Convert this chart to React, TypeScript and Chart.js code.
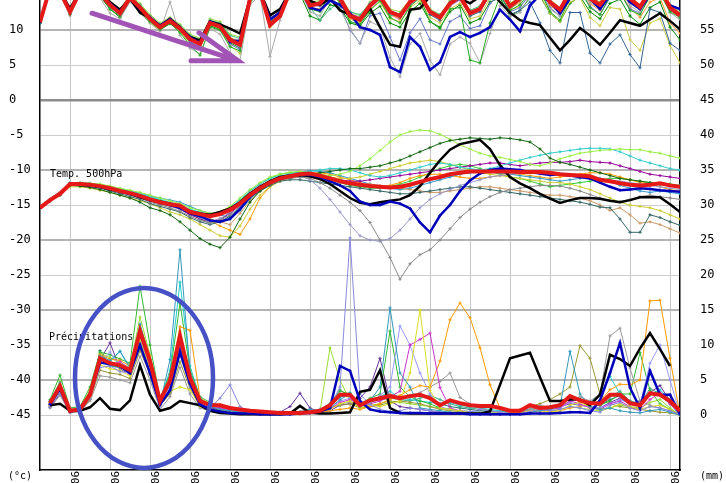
import React, { useEffect, useRef } from 'react';
import { Chart, registerables } from 'chart.js';

Chart.register(...registerables);

// ---------- layout constants ----------
const CUT_TOP = 20; // part of the chart hidden above the picture edge
const CANVAS_W = 726;
const CANVAS_H = 483 + CUT_TOP;

// ---------- axes ----------
const stepIndex = Array.from({ length: 65 }, (_, i) => i); // 6-hourly steps, 0 = 12 UTC
const sixUtcSteps = [3, 7, 11, 15, 19, 23, 27, 31, 35, 39, 43, 47, 51, 55, 59, 63];
const sixUtcLabel = '06';
const leftTickValues = [-45, -40, -35, -30, -25, -20, -15, -10, -5, 0, 5, 10, 15];
const rightTickValues = [0, 5, 10, 15, 20, 25, 30, 35, 40, 45, 50, 55, 60];
const PRECIP_OFFSET = 45; // mm axis = °C axis + 45
const Y_MIN = -52 - 6 / 7;
const Y_MAX = 17 + 1 / 7;
const unitLeft = '(°c)';
const unitRight = '(mm)';
const labelT500 = 'Temp. 500hPa';
const labelPrecip = 'Précipitations';

// ---------- annotations (data units: step, °C) ----------
const arrowTail = { x: 5.2, y: 12.4 };
const arrowTip = { x: 19.8, y: 5.6 };
const arrowBarbA = { x: 15.9, y: 9.6 };
const arrowBarbB = { x: 15.1, y: 5.6 };
const ellipseCenter = { x: 10.4, y: -39.7 };
const ellipseRadiusSteps = 6.9;
const ellipseRadiusDeg = 12.86;

// ---------- top panel (temperature, °C) ----------
const topMean = [11.1,16.0,15.5,12.6,15.5,16.5,15.2,13.6,12.4,14.6,
13.2,11.6,10.4,11.3,10.2,8.7,8.0,11.0,10.5,8.6,
7.9,14.5,15.5,10.7,12.0,15.5,16.0,13.5,13.8,15.5,
14.5,12.0,11.5,13.5,14.8,12.6,12.0,14.0,15.0,12.6,
11.8,13.8,14.8,12.4,13.0,15.5,15.8,13.4,14.5,16.0,
16.2,14.0,12.9,15.5,16.5,14.5,13.6,15.5,16.2,14.5,
13.3,15.5,16.0,13.2,12.1];
const topControl = [11.1,16.0,15.5,13.1,15.5,16.5,15.0,14.0,12.9,14.5,
12.5,11.7,10.6,11.6,10.4,9.0,8.5,11.2,10.8,10.2,
9.5,14.5,15.5,12.1,13.0,15.5,16.0,14.2,13.6,14.5,
12.8,12.2,11.4,13.1,10.4,7.9,7.6,12.9,13.1,14.8,
15.2,14.6,14.5,13.8,14.8,15.5,14.0,12.5,11.4,11.0,
10.7,8.9,7.1,8.6,10.3,9.2,7.9,9.6,11.4,11.0,
10.6,11.5,12.4,11.3,10.1];
const topOper = [11.1,16.0,15.5,12.8,15.5,16.5,15.0,13.8,12.6,14.6,
13.0,11.8,10.6,11.5,10.3,8.9,8.2,11.2,10.6,8.3,
8.5,14.5,15.5,11.5,12.5,15.5,16.0,13.2,12.8,14.2,
13.6,12.4,10.4,10.0,9.3,4.7,4.0,9.0,7.6,4.3,
5.4,9.0,9.7,9.0,9.6,10.4,12.9,11.5,9.8,13.5,
15.0,14.0,12.4,14.5,15.5,14.5,13.0,15.0,15.8,14.0,
13.0,15.0,15.5,13.5,13.0];
const topM01 = [11.0,16.2,15.6,12.2,15.4,16.6,15.0,13.0,12.0,14.8,
12.8,11.2,10.1,11.0,9.6,7.8,6.4,10.4,10.0,7.6,
7.0,14.0,15.2,11.2,12.6,15.8,16.2,13.0,12.6,15.2,
14.0,11.2,10.8,12.8,14.2,11.8,11.0,13.4,14.6,11.2,
10.2,13.0,13.2,5.7,5.3,11.0,14.8,12.8,13.6,15.5,
15.6,12.6,11.4,14.6,15.8,13.2,12.2,14.8,15.4,12.8,
12.2,14.8,15.2,12.6,11.8];
const topM02 = [11.2,15.8,15.0,12.0,15.0,16.0,14.6,12.4,11.6,14.0,
12.4,11.0,9.8,14.0,9.2,7.4,6.6,10.2,9.4,6.8,
5.7,13.6,15.0,6.2,11.4,15.0,15.6,12.6,12.0,14.6,
13.0,10.2,8.1,11.2,10.5,6.1,3.3,8.0,9.5,5.7,
3.6,8.0,9.0,8.1,5.3,9.5,13.5,12.0,12.5,15.0,
15.5,13.0,12.0,14.8,16.0,14.0,13.0,15.0,15.8,13.5,
12.5,15.0,15.5,12.5,11.5];
const topM03 = [11.1,16.0,15.4,12.4,15.6,16.5,15.0,13.2,12.2,14.4,
13.0,11.4,10.2,11.6,10.4,8.2,7.6,11.2,10.6,8.0,
7.2,14.4,15.5,11.8,12.4,15.2,15.8,13.6,13.4,14.8,
13.4,10.0,8.1,12.0,12.4,9.0,5.7,9.6,11.6,8.6,
8.0,11.2,12.0,10.2,10.6,13.8,15.0,12.6,13.2,15.2,
15.4,13.2,12.0,14.6,15.6,13.4,12.2,14.6,15.2,13.0,
12.4,14.8,15.6,12.8,12.0];
const topM04 = [11.0,16.0,15.6,12.8,15.5,16.4,15.4,13.8,12.6,14.8,
13.4,11.8,10.6,11.4,10.0,8.8,8.2,11.0,10.4,8.8,
8.4,14.6,15.6,11.0,12.2,15.6,16.0,13.8,13.6,15.4,
14.6,12.2,11.4,13.6,14.6,12.4,11.8,13.8,14.8,12.2,
11.4,13.6,14.4,12.0,12.6,15.0,15.2,12.2,12.8,14.0,
11.0,7.1,5.3,12.5,12.5,6.7,5.3,8.0,9.3,6.5,
4.6,13.0,12.5,8.1,7.1];
const topM05 = [11.2,15.8,15.4,12.6,15.4,16.2,15.0,13.4,12.2,14.2,
12.6,11.0,10.0,11.2,9.8,8.0,7.4,10.8,10.2,7.8,
6.6,14.0,15.2,10.4,11.8,15.2,15.8,13.2,13.0,15.0,
14.0,11.6,11.0,13.0,14.0,11.6,11.2,13.2,14.2,11.8,
11.0,13.0,13.8,11.6,12.0,14.6,15.0,12.8,13.4,15.0,
15.0,12.4,11.2,14.0,14.6,11.8,10.6,13.2,13.0,8.6,
7.1,11.0,11.6,7.8,5.3];
const topM06 = [11.1,16.0,15.5,12.8,15.6,16.6,15.2,13.6,12.8,14.8,
13.6,12.0,10.8,11.6,10.6,9.2,8.6,11.4,11.0,9.2,
8.8,14.8,15.6,10.8,12.4,15.6,16.0,13.2,11.4,13.0,
14.0,12.6,12.2,13.8,14.4,12.0,12.4,13.6,15.0,12.8,
12.2,14.0,14.6,12.8,13.4,15.4,15.8,13.0,14.2,15.8,
16.0,13.8,12.6,15.2,16.2,14.2,13.2,15.2,15.8,14.0,
13.0,15.2,15.8,13.0,12.2];
const topM07 = [11.0,16.1,15.6,12.5,15.4,16.4,15.1,13.4,12.2,14.5,
13.0,11.5,10.2,11.2,10.0,8.4,7.8,10.8,10.3,8.4,
7.6,14.3,15.4,11.4,12.8,15.6,16.1,13.8,14.0,15.6,
14.8,12.4,11.8,13.8,15.0,12.8,12.2,14.2,15.2,12.8,
12.0,14.0,15.0,12.6,13.2,15.6,16.0,13.6,14.6,16.0,
16.2,14.2,13.0,15.6,16.4,14.6,13.8,15.6,16.2,14.6,
13.4,15.6,16.0,13.4,12.4];
const topM08 = [11.2,16.0,15.5,12.9,15.7,16.7,15.4,13.9,12.8,14.9,
13.6,12.0,10.8,11.6,10.4,9.0,8.3,11.3,10.8,8.9,
8.4,14.7,15.6,10.6,12.1,15.4,15.9,13.4,13.6,15.3,
14.3,11.8,11.2,13.2,14.5,12.2,11.6,13.8,14.8,12.4,
11.4,13.5,14.5,12.0,12.7,15.3,15.6,13.0,14.0,15.5,
15.8,13.5,12.4,14.9,15.8,13.8,12.8,14.8,15.3,13.2,
11.8,14.0,14.6,11.0,9.5];
const topM09 = [11.1,16.0,15.4,12.7,15.5,16.5,15.3,13.7,12.5,14.7,
13.3,11.8,10.6,11.5,10.3,8.9,8.2,11.1,10.6,8.7,
8.0,14.6,15.5,10.9,12.2,15.5,16.0,13.6,13.9,15.6,
14.6,12.1,11.6,13.6,14.9,12.7,12.1,14.1,15.1,12.7,
11.9,13.9,14.9,12.5,13.1,15.6,15.9,13.5,14.6,16.1,
16.3,14.1,13.0,15.6,16.6,14.6,13.7,15.6,16.3,14.6,
13.4,15.6,16.1,13.3,12.2];
const topM10 = [11.0,15.9,15.3,12.3,15.2,16.2,14.8,13.0,11.8,14.2,
12.6,11.2,10.0,10.9,9.9,8.3,7.5,10.6,10.1,8.2,
7.4,14.2,15.0,11.2,12.8,14.6,15.2,12.0,11.4,13.6,
13.2,11.0,10.6,12.4,13.4,11.0,10.4,12.6,13.8,11.2,
10.4,12.6,13.6,11.0,11.6,14.0,14.6,12.0,12.8,14.6,
14.8,12.4,11.2,13.8,14.8,12.6,11.6,13.8,14.4,12.0,
10.8,13.2,14.0,10.4,8.6];
const topM11 = [11.2,16.2,15.8,13.0,15.8,16.8,15.5,14.0,13.0,15.0,
13.8,12.2,11.0,11.8,10.8,9.4,8.8,11.6,11.2,9.4,
9.0,15.0,15.8,11.6,12.6,15.8,16.3,14.0,14.2,15.8,
15.0,12.6,12.0,14.0,15.2,13.0,12.6,14.4,15.4,13.0,
12.2,14.2,15.2,12.8,13.4,15.8,16.2,13.8,14.8,16.2,
16.4,14.4,13.2,15.8,16.8,14.8,14.0,15.8,16.4,14.8,
13.6,15.8,16.3,13.6,12.6];
const topM12 = [11.1,16.0,15.5,12.6,15.5,16.5,15.1,13.5,12.3,14.5,
13.1,11.5,10.3,11.2,10.1,8.6,7.9,10.9,10.4,8.5,
7.8,14.4,15.4,11.0,12.3,15.5,16.0,13.4,13.5,15.3,
14.2,11.6,11.0,13.1,14.4,12.2,11.5,13.6,14.6,12.2,
11.4,13.4,14.3,12.1,12.8,15.2,15.6,13.2,14.2,15.7,
15.9,13.7,12.6,15.2,16.2,14.2,13.2,15.2,15.9,14.2,
13.0,15.2,15.7,12.9,11.8];

// ---------- middle panel (Temp. 500hPa, °C) ----------
const t500Mean = [-15.4,-14.3,-13.4,-12.0,-12.0,-12.1,-12.3,-12.6,-13.0,-13.3,
-13.7,-14.2,-14.6,-14.9,-15.1,-16.0,-16.3,-16.6,-16.3,-15.7,
-14.8,-13.6,-12.6,-11.8,-11.2,-10.9,-10.6,-10.5,-10.8,-11.2,
-11.6,-11.9,-12.1,-12.3,-12.4,-12.5,-12.4,-12.1,-11.7,-11.3,
-11.0,-10.6,-10.4,-10.2,-10.2,-10.2,-10.2,-10.2,-10.3,-10.3,
-10.3,-10.4,-10.6,-10.7,-10.8,-10.9,-11.4,-11.6,-11.9,-12.1,
-12.2,-12.1,-11.9,-12.2,-12.4];
const t500Control = [-15.4,-14.2,-13.3,-12.0,-12.1,-12.2,-12.4,-12.8,-13.0,-13.4,
-13.9,-14.3,-14.5,-14.8,-15.4,-15.9,-16.2,-16.4,-16.0,-15.5,
-14.6,-13.4,-12.4,-11.6,-11.0,-10.8,-10.7,-10.9,-11.3,-12.0,
-13.0,-14.0,-14.7,-14.9,-14.6,-14.4,-14.2,-13.6,-12.3,-10.4,
-8.6,-7.1,-6.3,-6.0,-5.7,-7.0,-9.3,-11.0,-11.9,-12.6,
-13.4,-14.1,-14.7,-14.3,-14.0,-14.0,-14.1,-14.4,-14.6,-14.3,
-13.9,-13.9,-13.9,-14.9,-16.0];
const t500Oper = [-15.4,-14.3,-13.4,-12.0,-12.0,-12.2,-12.4,-12.7,-13.1,-13.4,
-13.8,-14.3,-14.7,-15.0,-15.4,-16.2,-16.6,-17.2,-17.4,-17.0,
-15.6,-13.8,-12.6,-11.8,-11.2,-10.9,-10.7,-10.7,-11.0,-11.6,
-12.2,-13.0,-14.5,-15.0,-15.0,-14.5,-14.8,-15.5,-17.5,-18.9,
-16.5,-15.0,-13.0,-11.5,-10.5,-10.0,-9.8,-9.9,-10.0,-10.3,
-10.5,-10.7,-10.6,-10.8,-11.0,-11.2,-11.8,-12.4,-12.9,-12.8,
-12.6,-12.7,-12.9,-13.0,-13.1];
const t500M01 = [-15.4,-14.4,-13.6,-12.2,-12.3,-12.5,-12.8,-13.2,-13.6,-14.0,
-14.6,-15.4,-15.8,-16.4,-17.4,-18.6,-19.8,-20.6,-21.1,-19.6,
-17.0,-14.6,-13.0,-12.0,-11.4,-11.0,-10.8,-10.6,-10.4,-10.2,
-10.0,-9.8,-9.8,-9.6,-9.4,-9.0,-8.6,-8.0,-7.4,-6.8,
-6.2,-5.8,-5.6,-5.4,-5.5,-5.6,-5.4,-5.5,-5.7,-6.0,
-7.0,-8.3,-8.9,-9.2,-9.6,-10.0,-10.4,-10.8,-11.2,-11.4,
-11.6,-11.8,-12.0,-12.2,-12.4];
const t500M02 = [-15.4,-14.2,-13.3,-11.9,-11.8,-11.9,-12.0,-12.3,-12.6,-12.9,
-13.2,-13.6,-14.0,-14.4,-14.8,-15.4,-15.8,-16.2,-16.0,-15.2,
-14.0,-12.8,-11.8,-11.0,-10.6,-10.3,-10.2,-10.4,-10.6,-10.8,
-10.6,-10.2,-9.4,-8.4,-7.2,-6.0,-5.0,-4.5,-4.3,-4.4,
-4.9,-5.6,-6.4,-7.0,-7.6,-8.0,-8.2,-8.5,-8.8,-9.2,
-9.4,-9.0,-8.4,-8.0,-7.6,-7.4,-7.2,-7.1,-7.0,-7.1,
-7.1,-7.4,-7.6,-8.0,-8.3];
const t500M03 = [-15.4,-14.4,-13.5,-12.1,-12.2,-12.3,-12.5,-12.8,-13.2,-13.6,
-14.0,-14.6,-15.0,-15.4,-15.9,-16.6,-17.2,-17.6,-17.2,-16.4,
-15.2,-13.8,-12.8,-12.0,-11.5,-11.2,-11.0,-11.2,-11.8,-12.6,
-13.6,-14.6,-15.8,-17.5,-20.0,-22.5,-25.6,-23.4,-22.1,-21.4,
-20.0,-18.4,-16.8,-15.6,-14.6,-13.8,-13.2,-12.8,-12.6,-12.4,
-12.2,-12.2,-12.3,-12.6,-13.0,-13.5,-14.0,-14.4,-14.5,-14.2,
-13.8,-13.6,-13.8,-14.0,-14.2];
const t500M04 = [-15.4,-14.3,-13.4,-12.1,-12.0,-12.2,-12.4,-12.7,-13.1,-13.5,
-13.9,-14.4,-14.8,-15.2,-15.6,-16.2,-16.8,-17.4,-17.0,-16.0,
-14.6,-13.2,-12.2,-11.6,-11.0,-10.8,-10.8,-11.4,-12.6,-14.2,
-16.0,-17.8,-19.4,-20.0,-20.2,-19.8,-18.6,-17.0,-15.4,-14.2,
-13.4,-12.8,-12.2,-11.8,-11.4,-11.0,-10.8,-10.6,-10.4,-10.2,
-10.2,-10.4,-10.6,-10.6,-10.8,-11.0,-11.2,-11.4,-11.6,-11.8,
-12.0,-12.2,-12.4,-12.6,-12.8];
const t500M05 = [-15.4,-14.3,-13.4,-11.9,-11.9,-12.0,-12.2,-12.5,-12.8,-13.1,
-13.4,-13.8,-14.2,-14.6,-15.0,-15.6,-16.0,-16.4,-16.2,-15.4,
-14.2,-13.0,-12.0,-11.2,-10.8,-10.6,-10.4,-10.2,-10.0,-9.8,
-9.8,-10.0,-10.4,-10.8,-11.0,-10.8,-10.4,-10.0,-9.6,-9.2,
-9.0,-9.2,-9.6,-9.8,-10.0,-9.8,-9.4,-9.0,-8.6,-8.2,
-7.9,-7.6,-7.4,-7.2,-7.0,-6.9,-6.9,-7.0,-7.4,-8.0,
-8.6,-9.0,-9.4,-9.8,-10.0];
const t500M06 = [-15.4,-14.4,-13.5,-12.2,-12.2,-12.4,-12.6,-13.0,-13.4,-13.8,
-14.2,-14.8,-15.2,-15.6,-16.0,-16.8,-17.4,-17.8,-17.4,-16.6,
-15.4,-14.0,-13.0,-12.2,-11.6,-11.4,-11.4,-11.6,-11.8,-12.0,
-12.2,-12.4,-12.6,-12.8,-13.0,-13.2,-13.4,-13.4,-13.2,-13.0,
-12.8,-12.6,-12.4,-12.4,-12.6,-12.8,-13.0,-13.2,-13.4,-13.6,
-13.8,-14.0,-14.2,-14.4,-14.6,-14.9,-15.3,-15.4,-17.0,-18.9,
-18.9,-16.4,-16.8,-17.4,-17.9];
const t500M07 = [-15.4,-14.2,-13.3,-11.9,-11.9,-12.0,-12.2,-12.5,-12.9,-13.2,
-13.6,-14.0,-14.4,-14.8,-15.2,-15.8,-16.4,-17.0,-17.4,-17.8,
-16.2,-14.4,-13.0,-12.2,-11.6,-11.2,-11.0,-11.0,-11.2,-11.4,
-11.6,-11.8,-12.0,-12.0,-12.2,-12.4,-12.6,-12.8,-13.0,-13.2,
-13.2,-13.0,-12.8,-12.6,-12.4,-12.4,-12.6,-12.8,-13.0,-13.2,
-13.4,-13.6,-13.6,-13.8,-14.0,-14.4,-15.0,-15.8,-15.4,-16.4,
-17.6,-17.4,-17.8,-18.4,-19.0];
const t500M08 = [-15.4,-14.4,-13.6,-12.4,-12.4,-12.6,-12.9,-13.2,-13.6,-14.0,
-14.4,-14.8,-15.4,-16.0,-16.4,-17.0,-17.8,-18.6,-19.4,-19.6,
-18.0,-15.6,-13.6,-12.4,-11.6,-11.2,-10.9,-10.8,-10.9,-11.0,
-11.2,-11.2,-11.0,-10.6,-10.2,-9.8,-9.4,-9.0,-8.8,-8.6,
-8.8,-9.2,-9.6,-10.0,-10.4,-10.6,-10.8,-11.0,-11.2,-11.4,
-11.6,-11.8,-11.8,-12.0,-12.4,-12.8,-13.4,-14.0,-14.6,-15.0,
-15.2,-15.4,-15.8,-16.4,-17.0];
const t500M09 = [-15.4,-14.3,-13.4,-12.0,-12.1,-12.2,-12.4,-12.7,-13.1,-13.4,
-13.8,-14.3,-14.7,-15.1,-15.6,-16.4,-17.0,-17.4,-17.0,-16.2,
-15.0,-13.8,-12.8,-12.0,-11.4,-11.0,-10.8,-10.7,-10.9,-11.2,
-11.4,-11.6,-11.6,-11.4,-11.2,-11.0,-10.8,-10.6,-10.4,-10.2,
-10.0,-9.8,-9.6,-9.4,-9.2,-9.0,-9.0,-9.2,-9.4,-9.2,
-9.0,-8.9,-8.9,-8.8,-8.6,-8.8,-8.9,-9.0,-9.4,-9.8,
-10.2,-10.6,-10.8,-11.0,-11.2];
const t500M10 = [-15.4,-14.2,-13.2,-11.8,-11.8,-11.9,-12.1,-12.4,-12.7,-13.0,
-13.3,-13.7,-14.0,-14.3,-14.6,-15.2,-15.8,-16.2,-16.4,-16.8,
-15.8,-14.2,-12.8,-11.8,-11.0,-10.6,-10.3,-10.1,-10.2,-10.4,
-10.8,-11.2,-11.6,-12.0,-12.4,-12.6,-12.8,-12.6,-12.2,-11.8,
-11.4,-11.0,-10.6,-10.4,-10.2,-10.2,-10.4,-10.6,-10.8,-11.0,
-11.2,-11.4,-11.6,-11.4,-11.2,-11.0,-11.2,-11.6,-12.2,-12.6,
-13.0,-13.2,-13.0,-13.2,-13.4];
const t500M11 = [-15.4,-14.3,-13.3,-11.9,-12.0,-12.1,-12.3,-12.5,-12.9,-13.2,
-13.6,-14.0,-14.5,-14.9,-15.3,-16.0,-16.6,-17.2,-18.0,-18.6,
-19.2,-17.0,-14.0,-12.4,-11.4,-10.9,-10.6,-10.4,-10.4,-10.6,
-11.0,-11.4,-11.8,-12.2,-12.4,-12.2,-11.8,-11.2,-10.8,-10.6,
-10.6,-10.8,-11.0,-11.2,-11.2,-11.0,-10.8,-10.6,-10.6,-10.8,
-11.0,-11.2,-11.0,-10.8,-10.6,-10.4,-10.4,-10.6,-11.0,-11.4,
-11.8,-12.0,-12.4,-12.8,-13.0];
const t500M12 = [-15.4,-14.3,-13.4,-12.0,-11.9,-12.0,-12.2,-12.5,-12.8,-13.2,
-13.5,-13.9,-14.3,-14.8,-15.4,-16.2,-17.0,-17.6,-17.2,-16.0,
-14.4,-13.0,-12.0,-11.2,-10.6,-10.4,-10.4,-10.6,-11.0,-11.4,
-11.8,-12.2,-12.4,-12.6,-12.6,-12.4,-12.0,-11.6,-11.0,-10.4,
-9.8,-9.4,-9.2,-9.4,-9.8,-10.2,-10.6,-11.0,-11.2,-11.6,
-12.0,-12.4,-12.2,-12.0,-11.8,-11.6,-11.4,-11.2,-11.2,-11.4,
-11.6,-11.8,-12.0,-12.0,-12.2];

// ---------- bottom panel (Précipitations, mm / 6 h) ----------
const rrMean = [null,1.7,4.1,0.6,0.8,2.9,8.1,7.4,7.1,6.4,
12.0,7.7,2.0,4.9,11.3,5.3,2.0,1.4,1.4,1.0,
0.8,0.6,0.5,0.4,0.3,0.3,0.3,0.4,0.6,1.4,
2.9,2.9,1.4,2.1,2.4,2.7,2.4,2.7,2.9,2.4,
1.4,2.1,1.7,1.4,1.3,1.3,1.0,0.6,0.6,1.4,
1.0,1.1,1.4,2.7,2.1,1.7,1.6,2.9,2.9,1.7,
1.4,3.1,2.9,2.0,0.6];
const rrControl = [null,1.4,1.6,0.6,0.6,1.1,2.4,0.9,0.7,2.1,
7.1,2.9,0.6,1.0,2.0,1.7,1.4,0.6,0.3,0.2,
0.1,0.1,0.1,0.1,0.1,0.2,1.3,0.3,0.2,0.2,
0.3,0.4,3.3,3.6,6.4,1.0,0.3,0.2,0.2,0.2,
0.2,0.2,0.2,0.2,0.2,0.5,4.3,8.1,8.5,8.9,
5.4,2.0,2.0,2.2,2.2,1.4,2.9,8.6,8.0,7.0,
9.5,11.7,9.4,7.0,null];
const rrOper = [null,1.5,3.8,0.5,0.8,3.0,7.5,7.3,7.0,6.0,
10.0,6.0,1.5,3.5,9.0,4.5,1.5,0.8,0.5,0.3,
0.2,0.2,0.1,0.1,0.1,0.1,0.2,0.3,0.5,1.0,
7.0,6.3,2.0,0.8,0.5,0.4,0.3,0.3,0.3,0.2,
0.2,0.2,0.2,0.1,0.1,0.1,0.1,0.1,0.1,0.2,
0.2,0.2,0.3,0.4,0.4,0.3,2.1,6.0,10.3,3.9,
1.0,6.3,2.9,2.9,0.1];
const rrM01 = [null,1.2,3.2,0.4,0.6,2.4,6.8,7.0,6.2,6.0,
9.8,6.4,1.2,3.6,8.8,4.0,1.8,1.0,2.4,4.3,
1.2,0.4,0.2,0.1,0.1,0.1,0.3,0.5,0.8,1.2,
4.0,25.3,3.0,1.5,0.8,0.5,0.6,1.0,0.8,0.6,
0.4,0.3,0.3,0.5,0.8,0.6,0.4,0.2,0.2,0.5,
0.8,0.6,0.8,1.2,1.0,0.6,0.4,1.4,1.8,1.0,
0.6,1.2,1.0,0.6,0.1];
const rrM02 = [null,2.0,4.6,0.8,0.8,3.2,8.4,7.8,9.1,6.8,
13.0,8.0,1.6,7.9,23.6,6.0,2.4,1.2,0.8,0.6,
0.4,0.3,0.2,0.2,0.2,0.3,0.5,0.8,0.6,1.0,
2.2,3.0,1.2,2.0,4.0,15.3,6.0,4.0,1.0,0.8,
0.6,0.4,0.3,0.3,0.2,0.2,0.1,0.1,0.2,0.4,
0.6,0.8,1.2,9.1,3.0,1.2,0.8,1.0,0.6,0.4,
0.3,0.6,0.8,0.4,0.0];
const rrM03 = [null,1.4,3.8,0.5,0.9,2.6,7.2,6.6,6.4,5.6,
10.6,6.6,1.8,3.4,4.0,3.6,1.2,0.8,0.6,0.4,
0.3,0.2,0.1,0.1,0.1,0.2,0.2,0.3,0.4,0.8,
1.6,2.0,1.0,1.4,1.2,1.6,2.0,6.0,15.0,3.5,
1.0,0.8,0.6,0.4,0.3,0.3,0.2,0.2,0.3,0.6,
0.8,0.4,0.6,1.4,1.8,1.2,0.8,1.0,1.6,1.2,
0.8,1.2,1.4,0.8,0.0];
const rrM04 = [null,1.6,4.0,0.6,0.7,3.0,8.0,7.2,7.6,6.6,
11.4,7.2,2.2,4.4,10.4,5.0,1.8,1.4,1.0,0.8,
0.6,0.5,0.4,0.3,0.2,0.2,0.2,0.3,0.5,0.8,
1.8,2.2,1.4,1.6,2.0,2.6,3.4,10.0,10.8,11.7,
3.9,1.0,0.6,0.4,0.3,0.2,0.2,0.2,0.3,0.6,
0.8,0.8,1.0,2.0,1.6,1.0,0.8,1.6,2.0,1.2,
0.8,2.2,3.2,1.6,0.1];
const rrM05 = [null,1.8,4.4,0.7,1.0,3.4,8.6,8.0,7.8,7.0,
12.8,8.4,2.6,5.2,12.6,12.1,2.4,1.6,1.4,1.0,
0.6,0.4,0.3,0.2,0.2,0.2,0.2,0.3,0.4,0.6,
0.8,1.0,0.8,1.2,1.6,2.2,2.8,3.6,4.2,4.0,
7.7,13.6,16.0,13.9,9.6,4.3,1.0,0.4,0.3,0.4,
0.6,0.5,0.6,1.0,1.2,1.6,2.0,3.6,4.4,4.3,
5.0,16.3,16.4,8.1,0.0];
const rrM06 = [null,1.0,2.8,0.3,0.5,2.0,5.6,5.4,5.0,4.6,
8.4,5.0,0.8,2.6,6.8,3.0,1.0,0.6,0.5,0.4,
0.3,0.2,0.2,0.1,0.1,0.1,0.2,0.4,0.8,1.0,
1.6,1.8,1.2,1.8,2.6,3.0,2.4,2.8,3.2,4.0,
4.8,6.0,2.5,1.6,1.0,0.6,0.4,0.3,0.4,0.8,
1.4,1.0,1.2,2.0,2.6,2.0,3.0,11.3,12.4,6.7,
2.0,1.4,1.0,0.6,0.0];
const rrM07 = [null,1.5,3.6,0.5,0.8,2.8,7.4,9.0,7.0,6.2,
11.0,7.0,1.6,4.0,11.0,5.6,2.0,1.2,1.0,0.7,
0.5,0.4,0.3,0.2,0.2,0.2,0.2,0.3,0.6,1.0,
2.0,2.4,1.2,1.6,2.8,4.0,12.7,10.0,6.0,3.0,
1.2,0.8,0.6,0.5,0.4,0.3,0.2,0.2,0.4,0.8,
1.0,0.8,1.0,1.8,1.4,1.2,1.0,1.6,2.2,1.6,
1.4,7.4,10.0,5.0,0.1];
const rrM08 = [null,2.2,5.7,1.0,1.2,4.0,9.0,8.6,8.0,7.4,
18.4,10.0,2.4,5.8,16.0,6.4,2.6,1.8,1.4,1.0,
0.8,0.6,0.4,0.3,0.3,0.2,0.3,0.5,0.8,1.6,
3.4,3.0,1.6,2.4,3.0,12.0,4.0,2.6,2.0,1.6,
1.0,0.8,0.6,0.5,0.4,0.3,0.2,0.2,0.4,0.8,
1.2,1.0,1.4,2.4,2.0,1.6,1.4,2.0,3.0,3.0,
8.9,3.5,1.6,0.8,0.0];
const rrM09 = [null,1.3,3.4,0.4,0.6,2.2,6.4,6.0,5.8,5.2,
9.2,5.8,1.4,3.0,7.6,3.8,1.4,0.9,0.7,0.5,
0.4,0.3,0.2,0.2,0.2,0.2,0.2,0.3,0.6,1.0,
1.4,1.6,1.0,1.2,1.4,1.8,2.0,1.8,1.6,1.2,
0.8,0.6,0.5,0.4,0.3,0.3,0.3,0.4,0.8,1.2,
1.6,2.2,3.0,4.0,9.9,8.1,3.0,1.6,1.2,1.0,
0.8,0.6,0.4,0.3,0.0];
const rrM10 = [null,1.9,4.8,0.8,1.0,3.6,8.8,8.2,7.4,6.8,
14.0,8.6,2.0,5.0,12.0,6.0,2.2,1.4,1.2,0.8,
0.6,0.4,0.3,0.2,0.2,0.3,0.4,0.6,0.5,9.6,
5.0,2.0,1.0,1.4,1.6,2.0,1.8,1.6,1.4,1.2,
1.0,0.8,0.6,0.4,0.3,0.2,0.2,0.2,0.3,0.5,
0.6,0.6,0.8,1.2,1.0,0.8,0.6,1.0,1.4,1.2,
1.0,1.8,2.2,1.0,0.0];
const rrM11 = [null,1.1,3.0,0.4,0.5,2.2,7.8,10.3,6.6,5.8,
10.2,6.0,1.4,3.2,9.6,4.4,1.6,1.0,0.8,0.6,
0.4,0.3,0.2,0.2,0.4,1.2,3.1,1.0,0.4,0.6,
1.4,1.6,2.4,4.0,8.1,2.0,1.2,1.0,0.8,0.6,
0.4,0.3,0.3,0.2,0.2,0.2,0.2,0.3,0.4,0.6,
0.8,1.0,1.2,1.6,1.4,1.2,1.0,1.8,2.4,1.6,
2.0,3.2,4.2,2.0,0.0];
const rrM12 = [null,1.7,4.2,0.6,0.9,3.0,8.2,7.6,9.1,6.6,
12.4,7.8,2.0,6.4,19.0,7.0,2.4,1.4,1.2,0.9,
0.6,0.5,0.4,0.3,0.3,0.3,0.3,0.4,0.6,1.2,
2.6,3.2,1.6,2.2,2.6,3.4,2.4,2.2,2.0,1.8,
1.6,1.8,1.4,1.2,1.0,0.8,0.6,0.5,0.6,0.8,
1.0,1.2,1.4,2.6,2.2,1.8,3.0,5.5,3.0,1.6,
1.4,2.8,3.6,2.2,0.0];
const rrM13 = [null,1.5,3.9,0.5,0.7,2.7,7.6,7.0,6.8,6.0,
11.6,7.2,1.8,4.6,10.8,5.0,1.9,1.3,1.2,0.9,
0.7,0.5,0.4,0.3,0.3,0.3,0.3,0.4,0.6,1.6,
3.6,2.6,1.4,1.8,2.2,2.4,2.2,2.0,2.4,2.8,
2.2,1.6,1.2,1.0,0.8,0.6,0.5,0.4,0.5,0.8,
1.0,1.2,1.6,2.6,2.0,1.6,1.4,2.6,3.4,2.0,
1.6,3.8,3.0,1.8,0.0];
const rrM14 = [null,1.6,3.6,0.5,0.8,2.6,9.2,7.0,6.8,6.2,
10.8,7.0,1.8,4.2,9.8,4.8,1.8,1.2,1.0,0.8,
0.6,0.5,0.4,0.3,0.3,0.3,0.3,0.4,0.6,1.4,
2.6,2.8,1.4,2.0,2.4,2.6,2.4,2.6,2.8,2.4,
1.6,1.2,1.0,0.8,0.6,0.5,0.4,0.4,0.5,0.8,
1.0,1.2,1.4,2.4,2.0,1.6,1.4,2.2,2.8,2.0,
1.6,3.0,2.8,1.6,0.0];

// ---------- member lists and colours ----------
const topMembers = [topM01, topM02, topM03, topM04, topM05, topM06, topM07, topM08, topM09, topM10, topM11, topM12];
const topColors = ['#22aa22', '#aaaaaa', '#6677cc', '#336699', '#cccc44', '#44bb88', '#9966cc', '#ff9933', '#33cccc', '#008800', '#99dd44', '#cc66cc'];
const t500Members = [t500M01, t500M02, t500M03, t500M04, t500M05, t500M06, t500M07, t500M08, t500M09, t500M10, t500M11, t500M12];
const t500Colors = ['#116611', '#99ee44', '#888888', '#9999cc', '#33cccc', '#336666', '#cc9966', '#cccc33', '#990099', '#3399cc', '#ff9900', '#33cc33'];
const rrMembers = [rrM01, rrM02, rrM03, rrM04, rrM05, rrM06, rrM07, rrM08, rrM09, rrM10, rrM11, rrM12, rrM13, rrM14];
const rrColors = ['#8888dd', '#3399bb', '#dddd22', '#cc33cc', '#ff9900', '#999999', '#9999ff', '#33bb33', '#999933', '#99dd33', '#663399', '#22cccc', '#44aa88', '#227777'];

const MEAN_COLOR = '#e61919';
const CONTROL_COLOR = '#000000';
const OPER_COLOR = '#0000bb';
const ARROW_COLOR = '#a154b6';
const ELLIPSE_COLOR = '#4751c6';
const MONO = '"DejaVu Sans Mono", monospace';

function gridColor(ctx: any) {
  const v = ctx.tick ? ctx.tick.value : 1;
  if (v === 0) return '#8c8c8c';
  if (v % 10 === 0) return '#b4b4b4';
  return '#cdcdcd';
}
function gridWidth(ctx: any) {
  const v = ctx.tick ? ctx.tick.value : 1;
  if (v === 0) return 2.5;
  if (v % 10 === 0) return 2;
  return 1;
}

const overlayPlugin = {
  id: 'meteogramOverlay',
  beforeDatasetsDraw(chart: any) {
    const { ctx, scales } = chart;
    const x = scales.x;
    const y = scales.y;
    ctx.save();
    ctx.font = `10px ${MONO}`;
    ctx.fillStyle = '#000';
    ctx.textAlign = 'left';
    ctx.textBaseline = 'middle';
    ctx.fillText(labelT500, x.getPixelForValue(1), y.getPixelForValue(-10.57));
    ctx.fillText(labelPrecip, x.getPixelForValue(0.9), y.getPixelForValue(-33.93));
    ctx.restore();
  },
  afterDraw(chart: any) {
    const { ctx, scales, chartArea } = chart;
    const x = scales.x;
    const y = scales.y;
    ctx.save();
    ctx.fillStyle = '#000';

    // rotated x labels at every 06 UTC
    ctx.font = `11px ${MONO}`;
    ctx.textAlign = 'right';
    ctx.textBaseline = 'top';
    sixUtcSteps.forEach((s) => {
      ctx.save();
      ctx.translate(Math.round(x.getPixelForValue(s)) + 0.5, chartArea.bottom + 1);
      ctx.rotate(-Math.PI / 2);
      ctx.fillText(sixUtcLabel, 0, 0);
      ctx.restore();
    });

    // unit labels under the vertical axes
    ctx.font = `10px ${MONO}`;
    ctx.textBaseline = 'middle';
    ctx.textAlign = 'left';
    ctx.fillText(unitLeft, 8, chartArea.bottom + 6);
    ctx.fillText(unitRight, chartArea.right + 20, chartArea.bottom + 6);

    // ellipse
    const cx = x.getPixelForValue(ellipseCenter.x);
    const cy = y.getPixelForValue(ellipseCenter.y);
    const rx = x.getPixelForValue(ellipseCenter.x + ellipseRadiusSteps) - cx;
    const ry = cy - y.getPixelForValue(ellipseCenter.y + ellipseRadiusDeg);
    ctx.beginPath();
    ctx.ellipse(cx, cy, rx, ry, 0, 0, Math.PI * 2);
    ctx.strokeStyle = ELLIPSE_COLOR;
    ctx.lineWidth = 4.5;
    ctx.stroke();

    // arrow
    const px = (p: any) => [x.getPixelForValue(p.x), y.getPixelForValue(p.y)];
    const [tx, ty] = px(arrowTail);
    const [hx, hy] = px(arrowTip);
    const [ax, ay] = px(arrowBarbA);
    const [bx, by] = px(arrowBarbB);
    ctx.strokeStyle = ARROW_COLOR;
    ctx.lineWidth = 5;
    ctx.lineCap = 'round';
    ctx.beginPath();
    ctx.moveTo(tx, ty);
    ctx.lineTo(hx, hy);
    ctx.moveTo(ax, ay);
    ctx.lineTo(hx, hy);
    ctx.lineTo(bx, by);
    ctx.stroke();
    ctx.restore();
  },
};

export default function App() {
  const ref = useRef<HTMLCanvasElement>(null);

  useEffect(() => {
    document.body.style.margin = '0';
    const canvas = ref.current;
    if (!canvas) return;

    const members = (list: any[], colors: string[], axis: string) =>
      list.map((d, i) => ({
        data: d,
        borderColor: colors[i],
        backgroundColor: colors[i],
        borderWidth: 1,
        pointRadius: 1.6,
        pointStyle: 'cross',
        pointBorderWidth: 1,
        pointBorderColor: colors[i],
        yAxisID: axis,
        order: 3,
      }));
    const bold = (d: any[], color: string, width: number, axis: string, order: number, pr: number) => ({
      data: d,
      borderColor: color,
      backgroundColor: color,
      borderWidth: width,
      pointRadius: pr,
      pointStyle: 'cross',
      pointBorderWidth: 1,
      yAxisID: axis,
      order,
    });

    const datasets: any[] = [
      bold(topMean, MEAN_COLOR, 4, 'y', 0, 0),
      bold(t500Mean, MEAN_COLOR, 4, 'y', 0, 0),
      bold(rrMean, MEAN_COLOR, 4, 'y2', 0, 0),
      bold(topOper, OPER_COLOR, 2.5, 'y', 1, 1.5),
      bold(t500Oper, OPER_COLOR, 2.5, 'y', 1, 1.5),
      bold(rrOper, OPER_COLOR, 2.5, 'y2', 1, 1.5),
      bold(topControl, CONTROL_COLOR, 2.5, 'y', 2, 0),
      bold(t500Control, CONTROL_COLOR, 2.5, 'y', 2, 0),
      bold(rrControl, CONTROL_COLOR, 2.5, 'y2', 2, 0),
      ...members(topMembers, topColors, 'y'),
      ...members(t500Members, t500Colors, 'y'),
      ...members(rrMembers, rrColors, 'y2'),
    ];

    const tickFont = { family: MONO, size: 12 };

    const chart = new Chart(canvas, {
      type: 'line',
      data: { labels: stepIndex as any, datasets },
      options: {
        responsive: false,
        maintainAspectRatio: false,
        animation: false,
        devicePixelRatio: 1,
        layout: { autoPadding: false, padding: { left: 9, right: 0, top: 0, bottom: 0 } },
        elements: { line: { tension: 0 } },
        plugins: { legend: { display: false }, tooltip: { enabled: false } },
        events: [],
        scales: {
          x: {
            type: 'linear',
            min: 0,
            max: 64,
            afterBuildTicks: (s: any) => {
              s.ticks = sixUtcSteps.map((v) => ({ value: v }));
            },
            afterFit: (s: any) => {
              s.height = 13;
              s.paddingLeft = 0;
              s.paddingRight = 0;
            },
            grid: { color: '#c6c6c6', lineWidth: 1, drawTicks: false },
            border: { display: true, color: '#000', width: 1.5 },
            ticks: { display: false },
          },
          y: {
            type: 'linear',
            position: 'left',
            min: Y_MIN,
            max: Y_MAX,
            afterBuildTicks: (s: any) => {
              s.ticks = leftTickValues.map((v) => ({ value: v }));
            },
            afterFit: (s: any) => {
              s.width = 31;
              s.paddingTop = 0;
              s.paddingBottom = 0;
            },
            grid: { drawTicks: false, color: gridColor as any, lineWidth: gridWidth as any },
            border: { display: true, color: '#000', width: 1.5 },
            ticks: {
              crossAlign: 'far',
              padding: 0,
              color: '#000',
              font: tickFont,
              callback: (v: any) => String(v),
            },
          },
          y2: {
            type: 'linear',
            position: 'right',
            min: Y_MIN + PRECIP_OFFSET,
            max: Y_MAX + PRECIP_OFFSET,
            afterBuildTicks: (s: any) => {
              s.ticks = rightTickValues.map((v) => ({ value: v }));
            },
            afterFit: (s: any) => {
              s.width = 46;
              s.paddingTop = 0;
              s.paddingBottom = 0;
            },
            grid: { drawOnChartArea: false, drawTicks: false },
            border: { display: true, color: '#000', width: 1.5 },
            ticks: {
              crossAlign: 'near',
              padding: 20,
              color: '#000',
              font: tickFont,
              callback: (v: any) => String(v),
            },
          },
        },
      } as any,
      plugins: [overlayPlugin as any],
    });

    return () => chart.destroy();
  }, []);

  return (
    <div style={{ position: 'relative', width: CANVAS_W, height: 483, overflow: 'hidden', background: '#fff' }}>
      <canvas
        ref={ref}
        width={CANVAS_W}
        height={CANVAS_H}
        style={{ position: 'absolute', left: 0, top: -CUT_TOP, width: CANVAS_W, height: CANVAS_H }}
      />
    </div>
  );
}
